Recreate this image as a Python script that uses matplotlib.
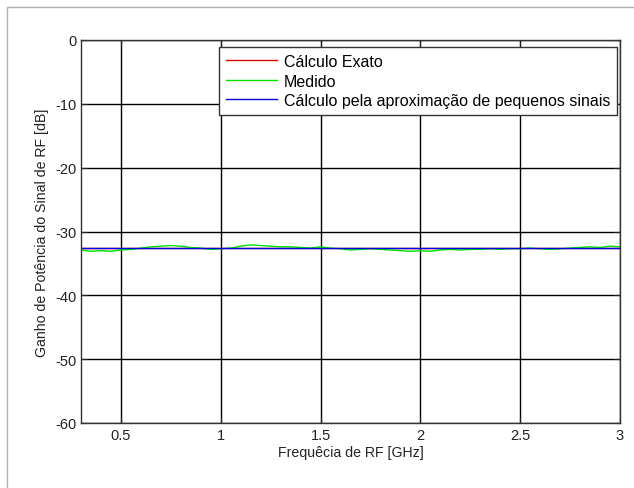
import matplotlib
matplotlib.use("Agg")
import matplotlib.pyplot as plt
from matplotlib.patches import Rectangle
import numpy as np

freq = [0.30, 0.35, 0.40, 0.45, 0.50, 0.55, 0.60, 0.65, 0.70, 0.75,
        0.80, 0.85, 0.90, 0.95, 1.00, 1.05, 1.10, 1.15, 1.20, 1.25,
        1.30, 1.35, 1.40, 1.45, 1.50, 1.55, 1.60, 1.65, 1.70, 1.75,
        1.80, 1.85, 1.90, 1.95, 2.00, 2.05, 2.10, 2.15, 2.20, 2.25,
        2.30, 2.35, 2.40, 2.45, 2.50, 2.55, 2.60, 2.65, 2.70, 2.75,
        2.80, 2.85, 2.90, 2.95, 3.00]
medido = [-32.9, -33.1, -33.0, -33.1, -32.9, -32.8, -32.6, -32.4, -32.3, -32.2,
          -32.3, -32.5, -32.6, -32.8, -32.7, -32.6, -32.3, -32.1, -32.2, -32.3,
          -32.4, -32.4, -32.5, -32.6, -32.4, -32.6, -32.7, -32.9, -32.8, -32.7,
          -32.8, -32.9, -33.0, -33.1, -33.0, -33.1, -32.9, -32.8, -32.9, -32.8,
          -32.8, -32.7, -32.8, -32.7, -32.7, -32.6, -32.7, -32.8, -32.7, -32.6,
          -32.5, -32.4, -32.5, -32.3, -32.4]
exato = [-32.6] * len(freq)
aprox = [-32.6] * len(freq)

xticks = [0.5, 1, 1.5, 2, 2.5, 3]
xticklabels = ["0.5", "1", "1.5", "2", "2.5", "3"]
yticks = [0, -10, -20, -30, -40, -50, -60]

plt.rcParams['font.family'] = ['Liberation Sans', 'DejaVu Sans']
plt.rcParams['axes.unicode_minus'] = False

fig = plt.figure(figsize=(6.34, 4.89), dpi=100)
top = 1 - 8/489
fig.patches.append(Rectangle((7/634, -0.2), 1.2, top + 0.2, transform=fig.transFigure,
                             fill=False, edgecolor='#b0b0b0', linewidth=1.0))
ax = fig.add_axes([81/634, 1 - 424/489, 539/634, 383/489])

ax.plot(freq, exato, color='#e00000', linewidth=1.0, label='Cálculo Exato')
ax.plot(freq, medido, color='#00e000', linewidth=1.0, label='Medido')
ax.plot(freq, aprox, color='#0000e0', linewidth=1.0, label='Cálculo pela aproximação de pequenos sinais')

ax.set_xlim(0.3, 3)
ax.set_ylim(-60, 0)
ax.set_xticks(xticks)
ax.set_xticklabels(xticklabels)
ax.set_yticks(yticks)
ax.grid(True, color='black', linewidth=1.0, linestyle='-')
ax.tick_params(direction='in', top=True, right=True, labelsize=10.5, colors='#222222', length=4)
for s in ax.spines.values():
    s.set_color('#333333')
    s.set_linewidth(1.0)

ax.set_xlabel('Frequêcia de RF [GHz]', fontsize=10.2, color='#222222', labelpad=2)
ax.set_ylabel('Ganho de Potência do Sinal de RF [dB]', fontsize=10.2, color='#222222', labelpad=4)

leg = ax.legend(loc='upper right', bbox_to_anchor=(0.995, 0.982), borderaxespad=0,
                fontsize=11.5, handlelength=3.2, fancybox=False, framealpha=1,
                edgecolor='#333333', borderpad=0.45, labelspacing=0.28, handletextpad=0.4)
leg.get_frame().set_linewidth(1.0)

fig.savefig('out.png', dpi=100)
